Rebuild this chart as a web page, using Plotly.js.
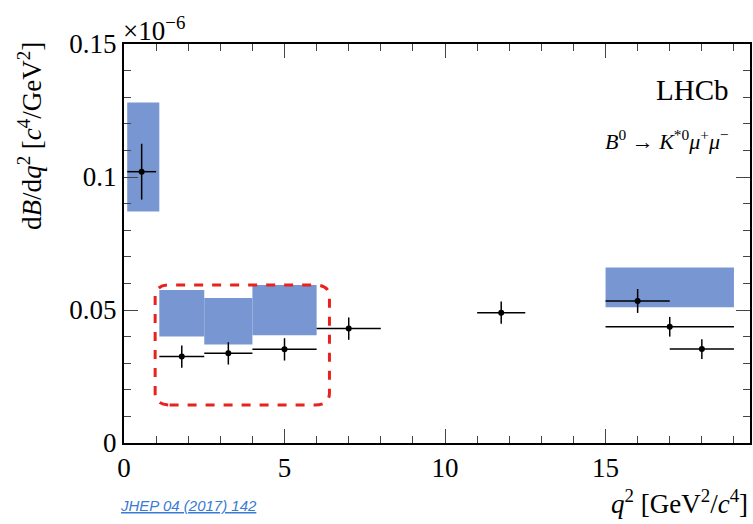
<!DOCTYPE html>
<html><head><meta charset="utf-8">
<script src="https://cdn.plot.ly/plotly-3.0.1.min.js"></script>
</head><body style="margin:0">
<div id="c" style="width:753px;height:524px"></div>
<script>
const xVals = [0.55, 1.8, 3.25, 5.0, 7.0, 11.75, 16.0, 17.0, 18.0];
const xErrLo = [0.45, 0.7, 0.75, 1.0, 1.0, 0.75, 1.0, 2.0, 1.0];
const xErrHi = [0.45, 0.7, 0.75, 1.0, 1.0, 0.75, 1.0, 2.0, 1.0];
const yVals = [0.102, 0.0325, 0.0337, 0.0352, 0.043, 0.049, 0.0534, 0.0437, 0.0353];
const yErr = [0.0105, 0.0042, 0.0042, 0.0042, 0.0042, 0.0042, 0.0045, 0.0037, 0.0037];
const boxXLo = [0.1, 1.1, 2.5, 4.0, 15.0];
const boxXHi = [1.1, 2.5, 4.0, 6.0, 19.0];
const boxYLo = [0.087, 0.040, 0.037, 0.0405, 0.051];
const boxYHi = [0.128, 0.0575, 0.0545, 0.0594, 0.066];

const shapes = boxXLo.map((x0,i)=>({type:'rect',xref:'x',yref:'y',x0:x0,x1:boxXHi[i],y0:boxYLo[i],y1:boxYHi[i],
  fillcolor:'rgb(120,151,210)',line:{width:0},layer:'below'}));
const rx0=0.97, rx1=6.4, ry0=0.0143, ry1=0.0594, cx=0.45, cy=0.0045;
shapes.push({type:'path',xref:'x',yref:'y',
  path:`M ${rx0+cx},${ry0} L ${rx1-cx},${ry0} Q ${rx1},${ry0} ${rx1},${ry0+cy} L ${rx1},${ry1-cy} Q ${rx1},${ry1} ${rx1-cx},${ry1} L ${rx0+cx},${ry1} Q ${rx0},${ry1} ${rx0},${ry1-cy} L ${rx0},${ry0+cy} Q ${rx0},${ry0} ${rx0+cx},${ry0} Z`,
  line:{color:'#e8231f',width:3,dash:'dash'}});

const data=[{x:xVals,y:yVals,type:'scatter',mode:'markers',
  marker:{color:'black',size:6},
  error_x:{type:'data',array:xErrHi,arrayminus:xErrLo,color:'black',thickness:1.5,width:0},
  error_y:{type:'data',array:yErr,color:'black',thickness:1.5,width:0}}];
const fam='Liberation Serif, Times New Roman, serif';
const layout={width:753,height:524,margin:{l:124,r:3,t:44,b:81},showlegend:false,
  paper_bgcolor:'white',plot_bgcolor:'white',font:{family:fam,color:'black'},
  xaxis:{range:[0,19.5],tickvals:[0,5,10,15],ticks:'inside',ticklen:14,mirror:'ticks',showline:true,linecolor:'black',linewidth:2,
    showgrid:false,zeroline:false,tickfont:{size:27,family:fam},minor:{ticks:'inside',ticklen:7,dtick:1}},
  yaxis:{range:[0,0.15],tickvals:[0,0.05,0.1,0.15],ticktext:['0','0.05','0.1','0.15'],ticks:'inside',ticklen:14,mirror:'ticks',showline:true,linecolor:'black',linewidth:2,
    showgrid:false,zeroline:false,tickfont:{size:27,family:fam},minor:{ticks:'inside',ticklen:7,dtick:0.01}},
  shapes:shapes,
  annotations:[
    {xref:'paper',yref:'paper',x:-0.005,y:0.99,xanchor:'left',yanchor:'bottom',text:'×10<sup>−6</sup>',showarrow:false,font:{size:27,family:fam}},
    {xref:'paper',yref:'paper',x:0.97,y:0.93,xanchor:'right',yanchor:'top',text:'LHCb',showarrow:false,font:{size:29,family:fam}},
    {xref:'paper',yref:'paper',x:0.97,y:0.8,xanchor:'right',yanchor:'top',text:'<i>B</i><sup>0</sup> → <i>K</i><sup>*0</sup><i>μ</i><sup>+</sup><i>μ</i><sup>−</sup>',showarrow:false,font:{size:22,family:fam}},
    {xref:'paper',yref:'paper',x:1,y:-0.1,xanchor:'right',yanchor:'top',text:'<i>q</i><sup>2</sup> [GeV<sup>2</sup>/<i>c</i><sup>4</sup>]',showarrow:false,font:{size:27,family:fam}},
    {xref:'paper',yref:'paper',x:-0.12,y:1.01,xanchor:'right',yanchor:'top',textangle:-90,text:'d<i>B</i>/d<i>q</i><sup>2</sup> [<i>c</i><sup>4</sup>/GeV<sup>2</sup>]',showarrow:false,font:{size:27,family:fam}},
    {xref:'paper',yref:'paper',x:-0.01,y:-0.13,xanchor:'left',yanchor:'top',text:'<i><u>JHEP 04 (2017) 142</u></i>',showarrow:false,font:{size:15,family:'Liberation Sans, Arial, sans-serif',color:'#3a7bd5'}}
  ]};
Plotly.newPlot('c',data,layout,{displayModeBar:false});
</script></body></html>
